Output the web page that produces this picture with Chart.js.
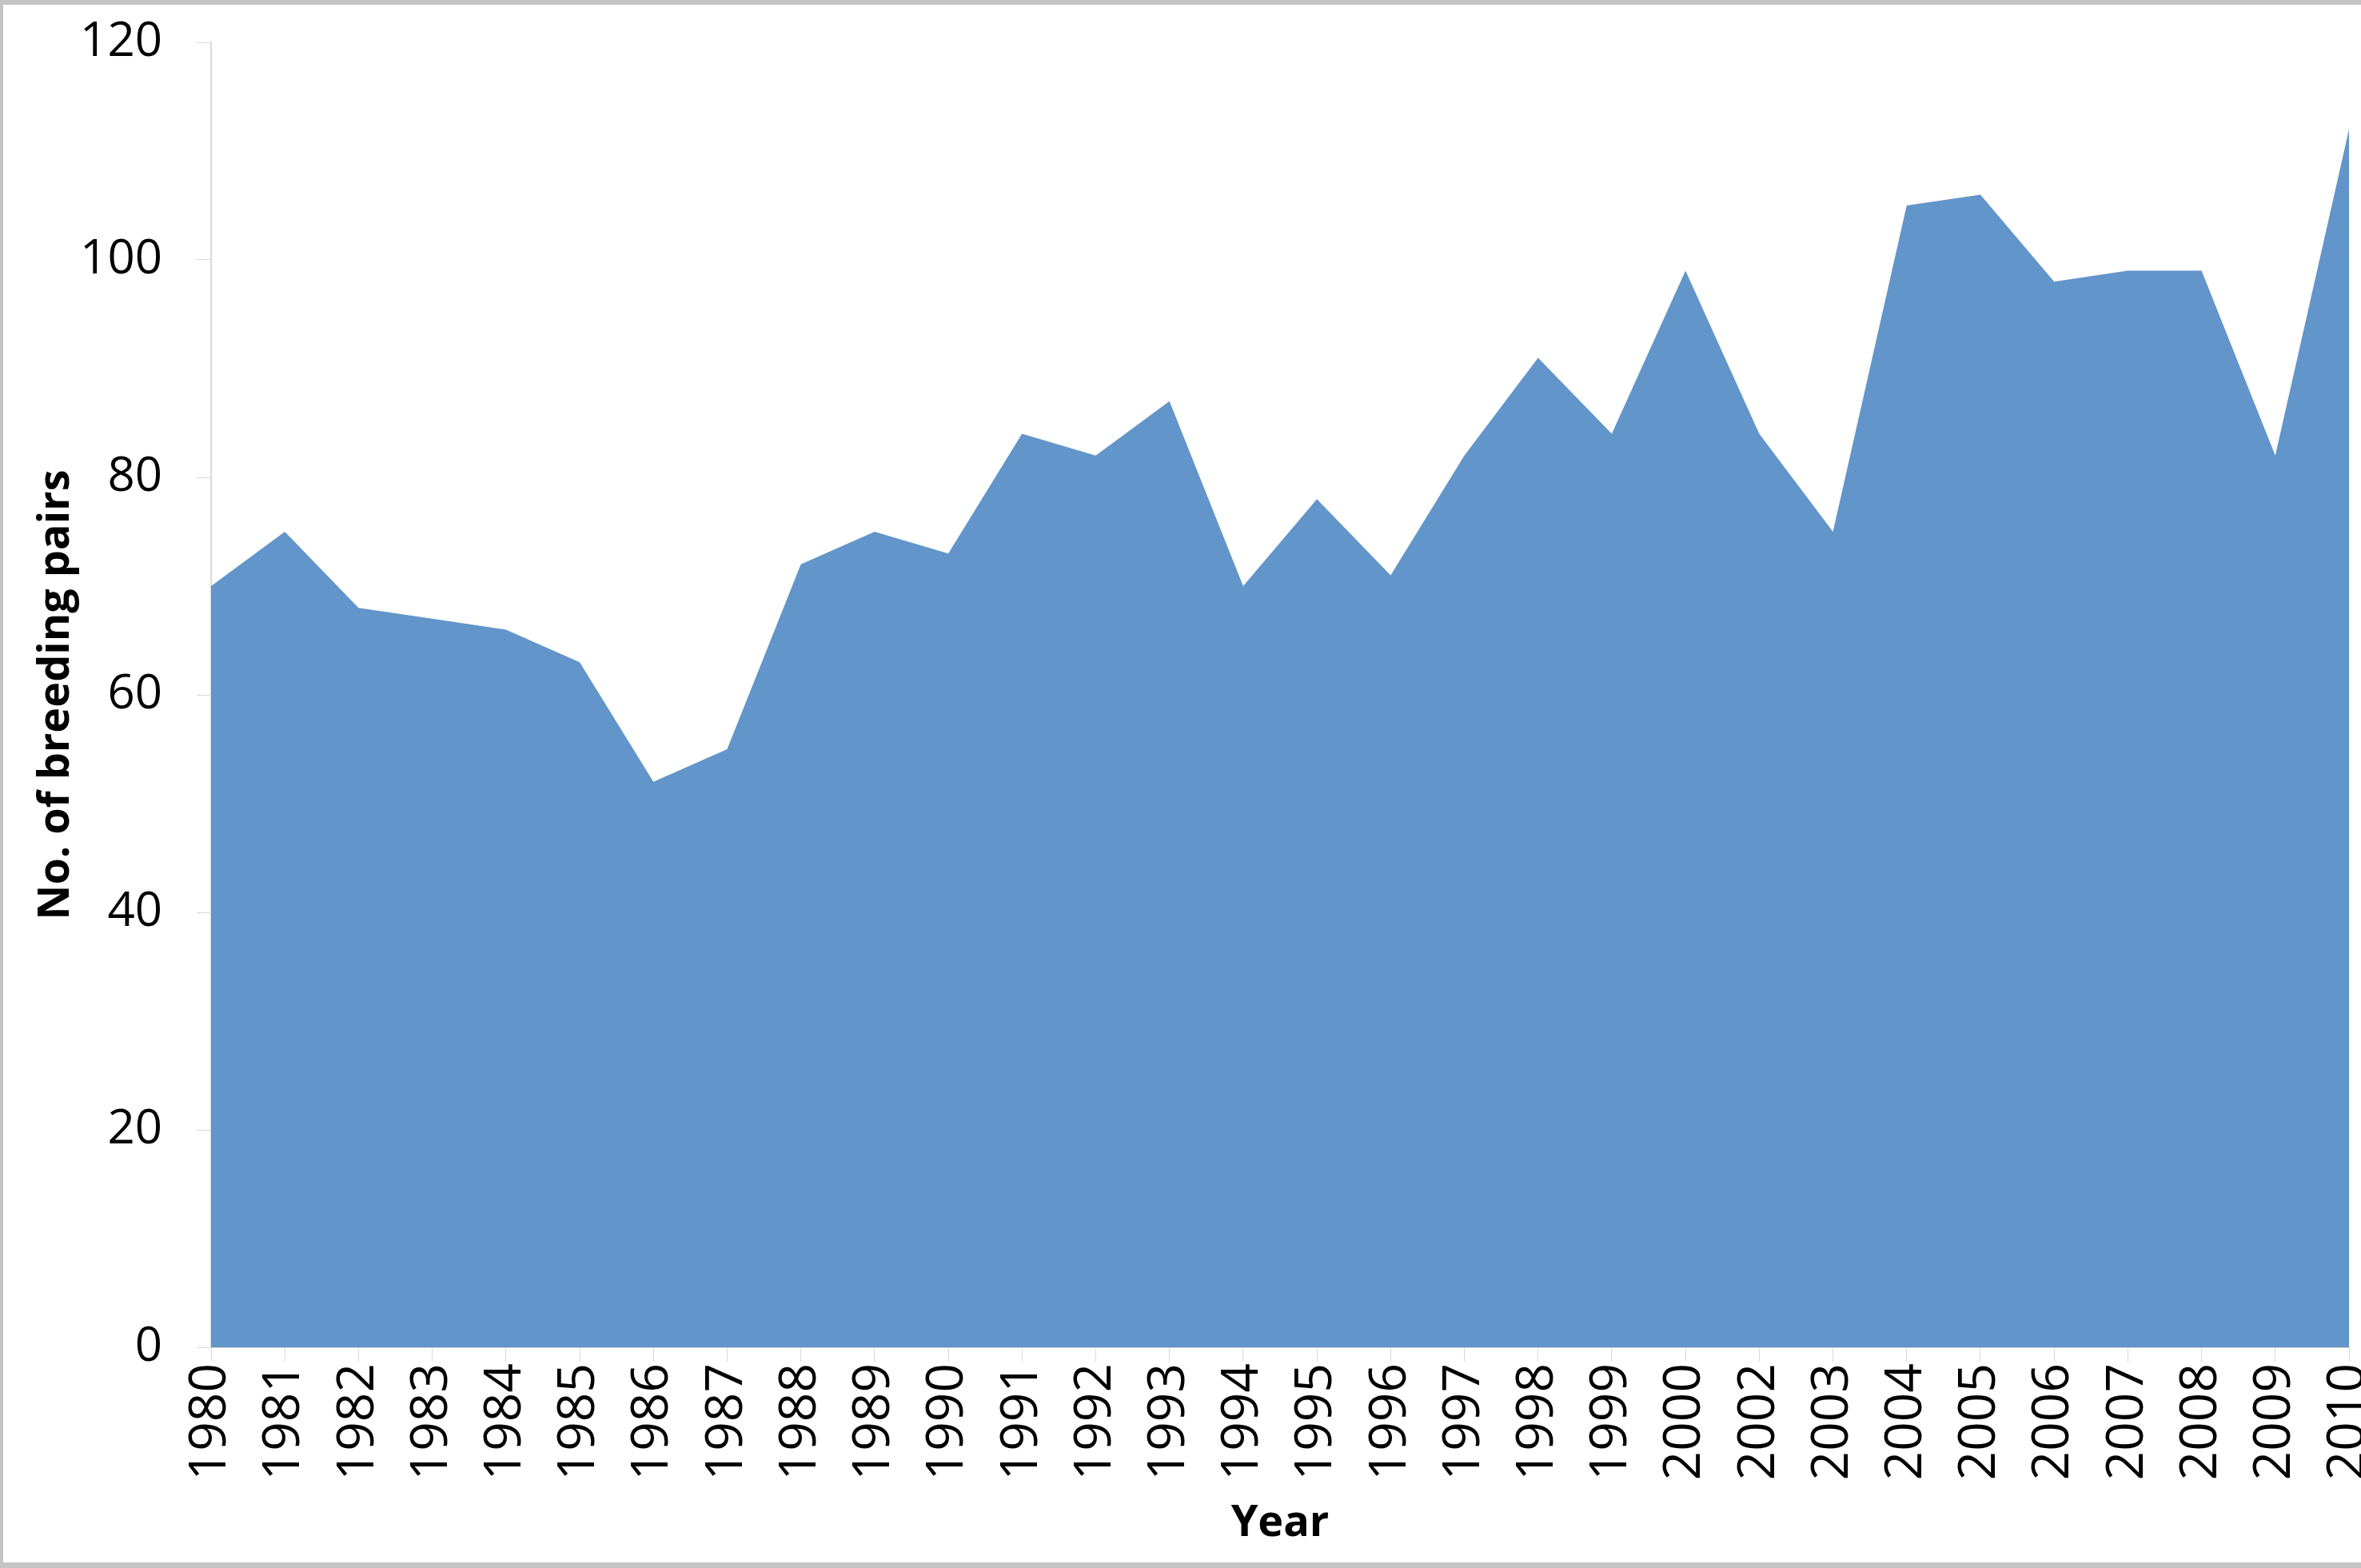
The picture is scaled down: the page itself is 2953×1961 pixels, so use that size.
<!DOCTYPE html>
<html lang="en">

<head>
    <meta charset="UTF-8">
    <title>Breeding pairs</title>
    <style>
        html, body { margin: 0; padding: 0; background: #fff; overflow: hidden; }
        canvas { display: block; }
    </style>
</head>

<body>
    <canvas id="pairs-chart" width="2953" height="1961"></canvas>

    <script src="https://cdn.jsdelivr.net/npm/chart.js@4.4.1/dist/chart.umd.min.js"></script>

    <script>
        // years on the x axis (there is no 2001 in the source)
        const years = ['1980', '1981', '1982', '1983', '1984', '1985', '1986', '1987', '1988', '1989',
            '1990', '1991', '1992', '1993', '1994', '1995', '1996', '1997', '1998', '1999',
            '2000', '2002', '2003', '2004', '2005', '2006', '2007', '2008', '2009', '2010'];

        // number of breeding pairs per year
        const pairs = [70, 75, 68, 67, 66, 63, 52, 55, 72, 75,
            73, 84, 82, 87, 70, 78, 71, 82, 91, 84,
            99, 84, 75, 105, 106, 98, 99, 99, 82, 112];

        const yTicks = [0, 20, 40, 60, 80, 100, 120];

        const FONT = '"Open Sans", "Liberation Sans", sans-serif';

        // white background and the thin grey frame round the picture
        const frame = {
            id: 'frame',
            beforeDraw(chart) {
                const c = chart.ctx;
                c.save();
                c.fillStyle = '#fff';
                c.fillRect(0, 0, chart.width, chart.height);
                c.restore();
            },
            afterDraw(chart) {
                const c = chart.ctx;
                c.save();
                c.fillStyle = '#c4c4c4';
                c.fillRect(0, 0, chart.width, 6);
                c.fillRect(0, 0, 4, chart.height);
                c.fillRect(0, chart.height - 7, chart.width, 7);
                c.restore();
            }
        };

        const ctx = document.getElementById('pairs-chart').getContext('2d');

        new Chart(ctx, {
            type: 'line',
            data: {
                labels: years,
                datasets: [{
                    label: 'No. of breeding pairs',
                    data: pairs,
                    fill: 'origin',
                    backgroundColor: '#6295c9',
                    borderWidth: 0,
                    borderColor: 'rgba(0,0,0,0)',
                    pointRadius: 0,
                    tension: 0
                }]
            },
            options: {
                responsive: false,
                devicePixelRatio: 1,
                animation: false,
                layout: { padding: { top: 53, right: 15, bottom: 0, left: 0 } },
                plugins: {
                    legend: { display: false },
                    tooltip: { enabled: false }
                },
                scales: {
                    x: {
                        offset: false,
                        grid: {
                            drawOnChartArea: false,
                            drawTicks: true,
                            tickLength: 18,
                            color: '#d9d9d9'
                        },
                        border: { color: '#d9d9d9', width: 2 },
                        ticks: {
                            autoSkip: false,
                            maxRotation: 90,
                            minRotation: 90,
                            padding: 2,
                            color: '#000',
                            font: { family: FONT, size: 64 }
                        },
                        title: {
                            display: true,
                            text: 'Year',
                            color: '#000',
                            padding: { top: 0, bottom: 23 },
                            font: { family: FONT, size: 54, weight: 'bold' }
                        },
                        afterFit(scale) {
                            scale.height = 276;
                            scale.paddingRight = 0;
                            scale.paddingLeft = 0;
                        }
                    },
                    y: {
                        min: 0,
                        max: 120,
                        afterBuildTicks(scale) {
                            scale.ticks = yTicks.map(v => ({ value: v }));
                        },
                        grid: {
                            drawOnChartArea: false,
                            drawTicks: true,
                            tickLength: 18,
                            color: '#d9d9d9'
                        },
                        border: { color: '#d9d9d9', width: 2 },
                        ticks: {
                            padding: 43,
                            color: '#000',
                            font: { family: FONT, size: 60 }
                        },
                        title: {
                            display: true,
                            text: 'No. of breeding pairs',
                            color: '#000',
                            padding: { top: 38, bottom: 0 },
                            font: { family: FONT, size: 54, weight: 'bold' }
                        },
                        afterFit(scale) {
                            scale.width = 264;
                            scale.paddingTop = 0;
                            scale.paddingBottom = 0;
                        }
                    }
                }
            },
            plugins: [frame]
        });
    </script>
</body>

</html>
